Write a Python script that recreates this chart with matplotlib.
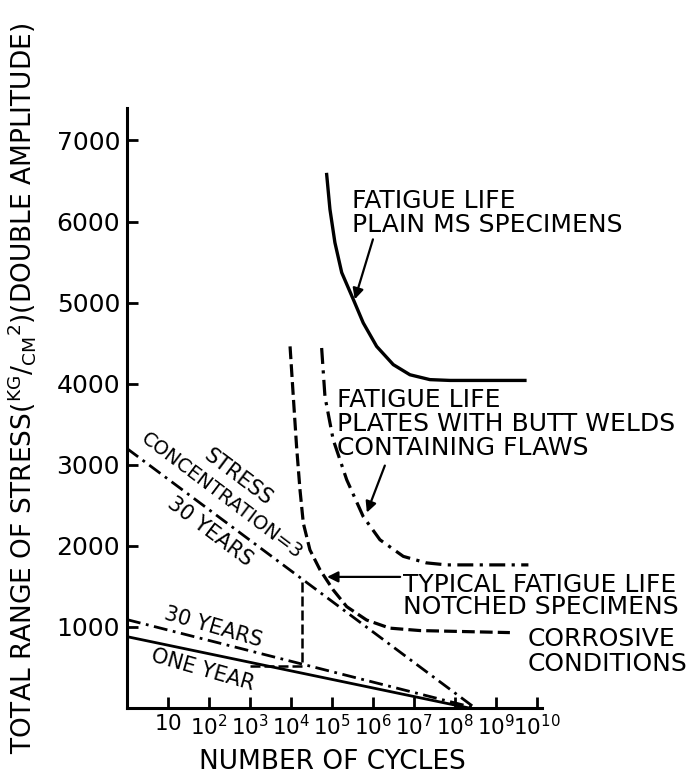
import matplotlib
matplotlib.use("Agg")
import matplotlib.pyplot as plt
from matplotlib.ticker import NullLocator, FixedLocator, FixedFormatter

# ---------------- data ----------------
ms_cycles = [7.43e4, 8.93e4, 1.18e5, 1.73e5, 3.31e5, 5.79e5, 1.23e6, 3.13e6,
             7.98e6, 2.45e7, 7.6e7, 5.1e9]
ms_stress = [6580, 6150, 5740, 5370, 5040, 4750, 4460, 4235,
             4110, 4050, 4040, 4040]

weld_cycles = [5.6e4, 6.75e4, 1.07e5, 2.29e5, 5.8e5, 1.48e6, 5.5e6, 2.0e7,
               6.3e7, 6.2e9]
weld_stress = [4440, 3840, 3310, 2815, 2360, 2075, 1870, 1790,
               1765, 1765]

notch_cycles = [9.5e3, 1.14e4, 1.37e4, 1.66e4, 2.0e4, 2.9e4, 5.1e4, 1.07e5,
                2.29e5, 7.0e5, 2.57e6, 1.41e7, 2.19e9]
notch_stress = [4460, 3840, 3225, 2690, 2280, 1950, 1705, 1457,
                1250, 1085, 985, 955, 930]

sc30_cycles = [1, 3.1e8]
sc30_stress = [3200, 0]

y30_cycles = [1, 3.1e8]
y30_stress = [1090, 0]

y1_cycles = [1, 2.2e8]
y1_stress = [880, 0]

conn_cycles = [1.0e3, 1.86e4, 1.86e4]
conn_stress = [520, 520, 1590]

x_tick_values = [1e1, 1e2, 1e3, 1e4, 1e5, 1e6, 1e7, 1e8, 1e9, 1e10]
x_tick_labels = ["$10$", "$10^{2}$", "$10^{3}$", "$10^{4}$", "$10^{5}$",
                 "$10^{6}$", "$10^{7}$", "$10^{8}$", "$10^{9}$", "$10^{10}$"]
y_tick_values = [1000, 2000, 3000, 4000, 5000, 6000, 7000]
y_tick_labels = ["1000", "2000", "3000", "4000", "5000", "6000", "7000"]

# ---------------- figure ----------------
plt.rcParams['font.family'] = ['DejaVu Sans']
plt.rcParams['mathtext.fontset'] = 'dejavusans'

W, H = 693, 777
fig = plt.figure(figsize=(W / 100, H / 100), dpi=100)
ax = fig.add_axes([127 / W, 69 / H, 415 / W, 600 / H])
ax.set_xscale('log')
ax.set_xlim(1, 1.33e10)
ax.set_ylim(0, 7400)

for s in ('top', 'right'):
    ax.spines[s].set_visible(False)
for s in ('left', 'bottom'):
    ax.spines[s].set_linewidth(2.2)

ax.xaxis.set_major_locator(FixedLocator(x_tick_values))
ax.xaxis.set_major_formatter(FixedFormatter(x_tick_labels))
ax.xaxis.set_minor_locator(NullLocator())
ax.yaxis.set_major_locator(FixedLocator(y_tick_values))
ax.yaxis.set_major_formatter(FixedFormatter(y_tick_labels))
ax.tick_params(direction='in', length=8, width=2, colors='black')
ax.tick_params(axis='x', pad=4, labelsize=15.5)
ax.tick_params(axis='y', pad=5, labelsize=18)

dashdot = (0, (5, 2.0, 1.0, 2.0))
dashed = (0, (4, 1.6))

ax.plot(ms_cycles, ms_stress, color='black', lw=2.4, solid_joinstyle='round')
ax.plot(weld_cycles, weld_stress, color='black', lw=2.3, linestyle=dashdot)
ax.plot(notch_cycles, notch_stress, color='black', lw=2.3, linestyle=dashed)
ax.plot(sc30_cycles, sc30_stress, color='black', lw=2.0, linestyle=dashdot)
ax.plot(y30_cycles, y30_stress, color='black', lw=2.0, linestyle=dashdot)
ax.plot(y1_cycles, y1_stress, color='black', lw=2.0)
ax.plot(conn_cycles, conn_stress, color='black', lw=1.8, linestyle=dashed)

fs = 18
arrow = dict(arrowstyle='-|>', color='black', lw=1.6, mutation_scale=16,
             shrinkA=0, shrinkB=0)

ax.text(3.1e5, 6395, "FATIGUE LIFE\nPLAIN MS SPECIMENS", fontsize=fs,
        ha='left', va='top', linespacing=1.0)
ax.annotate('', xy=(3.6e5, 5040), xytext=(1.0e6, 5780), arrowprops=arrow)

ax.text(1.3e5, 3950, "FATIGUE LIFE\nPLATES WITH BUTT WELDS\nCONTAINING FLAWS",
        fontsize=fs, ha='left', va='top', linespacing=1.0)
ax.annotate('', xy=(7.1e5, 2410), xytext=(1.95e6, 2990), arrowprops=arrow)

ax.text(5.4e6, 1667, "TYPICAL FATIGUE LIFE\nNOTCHED SPECIMENS", fontsize=fs,
        ha='left', va='top', linespacing=0.9)
ax.annotate('', xy=(7.6e4, 1617), xytext=(4.6e6, 1617), arrowprops=arrow)

ax.text(6.0e9, 1000, "CORROSIVE\nCONDITIONS", fontsize=fs,
        ha='left', va='top', linespacing=1.05)

ax.text(5.3e2, 2840, "STRESS", fontsize=15, rotation=-37,
        ha='center', va='center', rotation_mode='anchor')
ax.text(2.1e2, 2620, "CONCENTRATION=3", fontsize=14, rotation=-37,
        ha='center', va='center', rotation_mode='anchor')
ax.text(1.05e2, 2170, "30 YEARS", fontsize=15, rotation=-37,
        ha='center', va='center', rotation_mode='anchor')
ax.text(1.26e2, 1000, "30 YEARS", fontsize=15, rotation=-16,
        ha='center', va='center', rotation_mode='anchor')
ax.text(7.1e1, 469, "ONE YEAR", fontsize=15, rotation=-16,
        ha='center', va='center', rotation_mode='anchor')

fig.text(332 / W, 1 - 762 / H, "NUMBER OF CYCLES", fontsize=19,
         ha='center', va='center')
fig.text(22 / W, 1 - 388 / H,
         r"TOTAL RANGE OF STRESS($^{\mathrm{KG}}/_{\mathrm{CM}}{}^{2}$)(DOUBLE AMPLITUDE)",
         fontsize=19, rotation=90, ha='center', va='center')

fig.savefig("out.png", dpi=100)
